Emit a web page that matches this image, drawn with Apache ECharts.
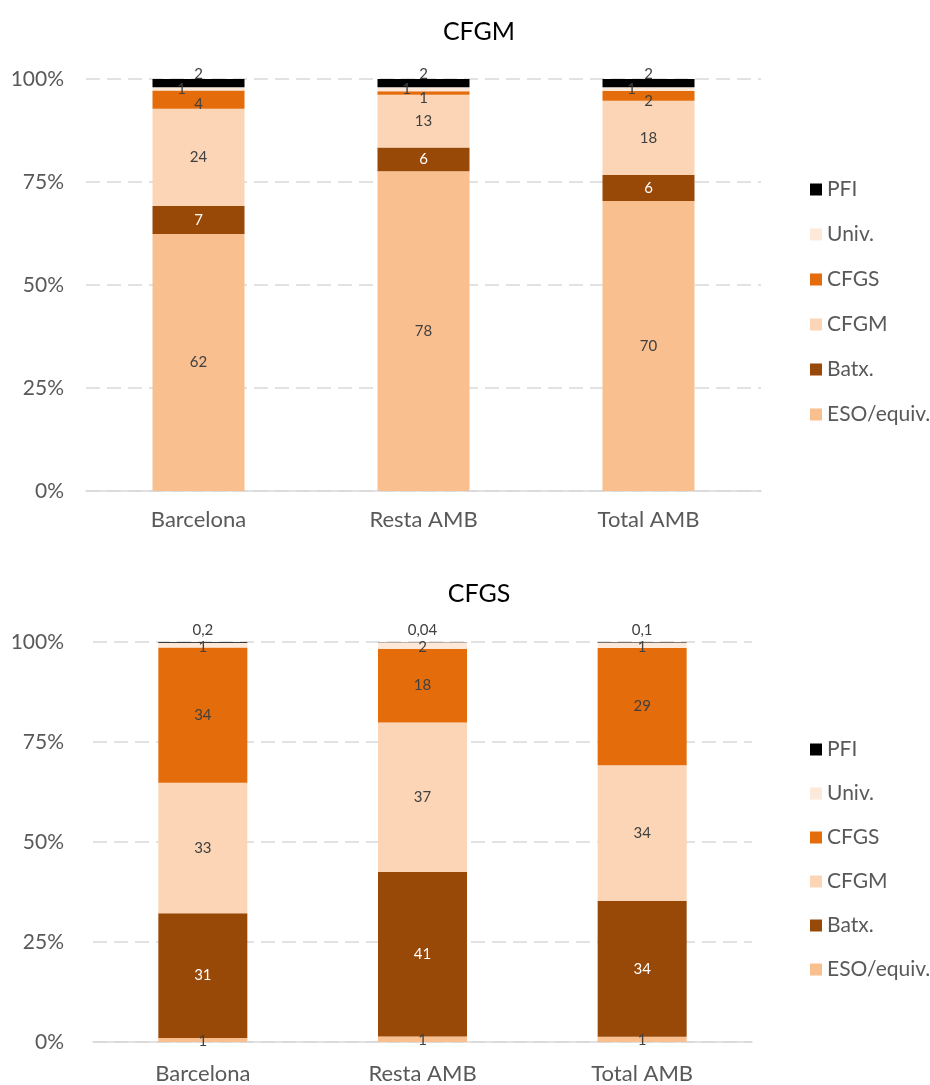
<!DOCTYPE html>
<html><head><meta charset="utf-8">
<script src="https://cdn.jsdelivr.net/npm/echarts@6/dist/echarts.min.js"></script>
<style>html,body{margin:0;padding:0;background:#fff}#c{width:930px;height:1085px}</style>
</head><body><div id="c"></div>
<script>
const categories = ['Barcelona', 'Resta AMB', 'Total AMB'];
const levels = ['ESO/equiv.', 'Batx.', 'CFGM', 'CFGS', 'Univ.', 'PFI'];
const legendOrder = ['PFI', 'Univ.', 'CFGS', 'CFGM', 'Batx.', 'ESO/equiv.'];
const yTicks = [0, 25, 50, 75, 100];
const titles = ['CFGM', 'CFGS'];

// Chart 1: CFGM (percent)
const cfgmESO  = [62.4, 77.6, 70.4];
const cfgmBatx = [6.8, 5.8, 6.3];
const cfgmCFGM = [23.6, 12.8, 18.0];
const cfgmCFGS = [4.4, 0.8, 2.4];
const cfgmUniv = [0.8, 1.0, 0.9];
const cfgmPFI  = [2.0, 2.0, 2.0];

// Chart 2: CFGS (percent)
const cfgsESO  = [1.0, 1.4, 1.3];
const cfgsBatx = [31.2, 41.1, 34.0];
const cfgsCFGM = [32.6, 37.4, 33.9];
const cfgsCFGS = [33.8, 18.4, 29.3];
const cfgsUniv = [1.2, 1.66, 1.4];
const cfgsPFI  = [0.2, 0.04, 0.1];

const colors = {
  'ESO/equiv.': '#F9BF8F',
  'Batx.': '#984807',
  'CFGM': '#FBD5B5',
  'CFGS': '#E46C0A',
  'Univ.': '#FDE9D9',
  'PFI': '#000000'
};
const labelColors = {
  'ESO/equiv.': '#404040', 'Batx.': '#FFFFFF', 'CFGM': '#404040',
  'CFGS': '#404040', 'Univ.': '#404040', 'PFI': '#404040'
};
const FONT = 'Lato, "Noto Sans", sans-serif';

function fmt(v) {
  if (v >= 0.5) return String(Math.round(v));
  return String(v).replace('.', ',');
}

const chartData = [
  [cfgmESO, cfgmBatx, cfgmCFGM, cfgmCFGS, cfgmUniv, cfgmPFI],
  [cfgsESO, cfgsBatx, cfgsCFGM, cfgsCFGS, cfgsUniv, cfgsPFI]
];

const labelCfg = [
  {
    'ESO/equiv.': {position: 'inside', offset: [0, 0]},
    'Batx.': {position: 'inside', offset: [0, 0]},
    'CFGM': {position: 'inside', offset: [0, 0]},
    'CFGS': {position: 'inside', offset: [0, 5]},
    'Univ.': {position: 'inside', offset: [-17, 0]},
    'PFI': {position: 'inside', offset: [0, -9]}
  },
  {
    'ESO/equiv.': {position: 'inside', offset: [0, 1]},
    'Batx.': {position: 'inside', offset: [0, 0]},
    'CFGM': {position: 'inside', offset: [0, 0]},
    'CFGS': {position: 'inside', offset: [0, 0]},
    'Univ.': {position: 'inside', offset: [0, 2]},
    'PFI': {position: 'top', offset: [0, 1]}
  }
];

const grids = [
  {left: 86, top: 79, width: 675, height: 412},
  {left: 93, top: 642, width: 659, height: 402}
];
const barWidths = [92, 89];

const series = [];
chartData.forEach((arrs, gi) => {
  arrs.forEach((vals, si) => {
    const name = levels[si];
    const lc = labelCfg[gi][name];
    series.push({
      name: name,
      type: 'bar',
      stack: 'g' + gi,
      xAxisIndex: gi,
      yAxisIndex: gi,
      barWidth: barWidths[gi],
      clip: false,
      itemStyle: {color: colors[name]},
      label: {
        show: true,
        position: lc.position,
        offset: lc.offset,
        color: labelColors[name],
        fontFamily: FONT,
        fontSize: 15,
        formatter: p => fmt(p.value)
      },
      emphasis: {disabled: true},
      data: vals
    });
  });
});

const option = {
  animation: false,
  title: titles.map((t, i) => ({
    text: t,
    left: 474,
    textAlign: 'center',
    top: i === 0 ? 14 : 576,
    textStyle: {fontFamily: FONT, fontSize: 25, fontWeight: 'normal', color: '#000'}
  })),
  legend: [0, 1].map(i => ({
    data: legendOrder,
    orient: 'vertical',
    left: 805,
    top: i === 0 ? 174 : 734,
    itemWidth: 12,
    itemHeight: 12,
    itemGap: i === 0 ? 24 : 23,
    icon: 'rect',
    selectedMode: false,
    textStyle: {fontFamily: FONT, fontSize: 21, color: '#595959'}
  })),
  grid: grids,
  xAxis: [0, 1].map(i => ({
    type: 'category',
    gridIndex: i,
    data: categories,
    axisLine: {lineStyle: {color: '#D9D9D9', width: 1.5}},
    axisTick: {show: false},
    axisLabel: {fontFamily: FONT, fontSize: 22, color: '#595959', margin: i === 0 ? 18 : 21}
  })),
  yAxis: [0, 1].map(i => ({
    type: 'value',
    gridIndex: i,
    min: yTicks[0],
    max: yTicks[yTicks.length - 1],
    interval: yTicks[1] - yTicks[0],
    axisLine: {show: false},
    axisTick: {show: false},
    axisLabel: {fontFamily: FONT, fontSize: 21, color: '#595959', margin: i === 0 ? 22 : 29, formatter: v => v + '%'},
    splitLine: {lineStyle: {color: '#D9D9D9', width: 1.5, type: [14, 7]}}
  })),
  series: series
};

const chart = echarts.init(document.getElementById('c'), null, {renderer: 'canvas'});
chart.setOption(option);
</script>
</body></html>
